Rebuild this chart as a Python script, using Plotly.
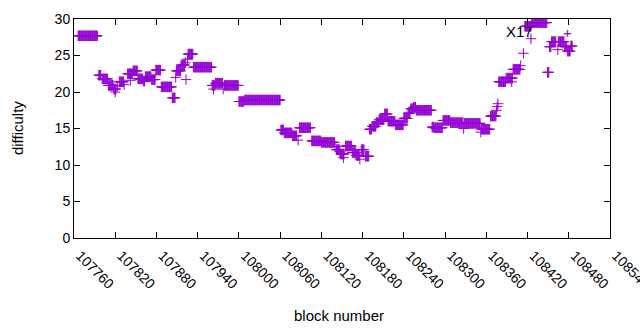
import plotly.graph_objects as go

# Difficulty runs: (first block, last block, difficulty)
run_start = [107766, 107796, 107801, 107810, 107818, 107820, 107823, 107826, 107833, 107838,
             107842, 107846, 107853, 107861, 107864, 107873, 107879, 107887, 107903, 107908,
             107909, 107916, 107922, 107923, 107925, 107926, 107934, 107961, 107963, 107966,
             107977, 107979, 108000, 108008,
             108061, 108066, 108078, 108086, 108088, 108106, 108120, 108140, 108142, 108147,
             108148, 108152, 108155, 108165, 108171, 108176, 108178, 108184, 108190, 108194,
             108200, 108204, 108212, 108217, 108228, 108240, 108246, 108250, 108254, 108258,
             108281, 108284, 108297, 108308, 108327, 108328, 108352, 108353, 108366, 108375,
             108376, 108377, 108378, 108389, 108397, 108399, 108410, 108414, 108416, 108425,
             108426, 108449, 108452, 108455, 108464, 108465, 108474, 108478, 108483]
run_end = [107794, 107799, 107809, 107817, 107821, 107820, 107823, 107832, 107833, 107845,
           107842, 107852, 107860, 107863, 107872, 107878, 107886, 107902, 107907, 107908,
           107915, 107921, 107922, 107923, 107925, 107933, 107960, 107965, 107963, 107976,
           107977, 107999, 108007, 108060,
           108065, 108077, 108084, 108086, 108104, 108119, 108139, 108140, 108146, 108147,
           108153, 108152, 108164, 108170, 108175, 108176, 108182, 108189, 108193, 108199,
           108203, 108211, 108216, 108227, 108239, 108245, 108249, 108253, 108257, 108280,
           108283, 108296, 108307, 108326, 108327, 108351, 108352, 108365, 108374, 108375,
           108376, 108377, 108388, 108398, 108397, 108409, 108410, 108414, 108425, 108425,
           108448, 108451, 108454, 108461, 108464, 108473, 108477, 108482, 108485]
run_value = [27.7, 22.3, 21.8, 20.9, 20.4, 20.0, 20.8, 21.4, 21.0, 22.5,
             21.6, 22.9, 21.8, 21.5, 22.1, 21.7, 23.0, 20.7, 19.2, 22.0,
             22.9, 23.7, 24.0, 21.7, 24.5, 25.2, 23.4, 20.9, 20.4, 21.2,
             20.4, 20.9, 18.7, 18.9,
             14.8, 14.4, 14.0, 13.4, 15.1, 13.3, 13.1, 12.5, 12.1, 11.8,
             11.5, 11.0, 12.6, 11.7, 11.3, 10.8, 12.1, 11.2, 14.9, 15.3,
             15.8, 16.2, 17.0, 16.0, 15.5, 16.4, 17.1, 17.7, 17.9, 17.5,
             15.2, 15.1, 16.1, 15.8, 15.0, 15.7, 14.5, 14.9, 16.7, 17.5,
             18.0, 18.4, 21.4, 21.9, 21.4, 23.1, 23.6, 25.3, 29.0, 27.3,
             29.5, 22.7, 26.2, 26.9, 25.8, 26.9, 26.2, 25.6, 26.3]

x_ticks = [107760, 107820, 107880, 107940, 108000, 108060, 108120, 108180,
           108240, 108300, 108360, 108420, 108480, 108540]
y_ticks = [0, 5, 10, 15, 20, 25, 30]
series_name = "X17"

blocks, diffs = [], []
for s, e, v in zip(run_start, run_end, run_value):
    for b in range(s, e + 1):
        blocks.append(b)
        diffs.append(v)

PURPLE = "#9400D3"
FONT = "Liberation Sans"

fig = go.Figure()
fig.add_trace(go.Scatter(
    x=blocks, y=diffs, mode="markers", name=series_name, showlegend=False,
    marker=dict(symbol="cross-thin", size=7.5, line=dict(width=1, color=PURPLE), color=PURPLE),
))

axis_common = dict(showline=True, linecolor="black", linewidth=1, mirror="allticks",
                   ticks="inside", ticklen=6, tickcolor="black", showgrid=False,
                   zeroline=False, automargin=False,
                   tickfont=dict(family=FONT, size=14, color="black"))

fig.update_xaxes(range=[x_ticks[0], x_ticks[-1]], tickvals=x_ticks,
                 ticktext=[str(t) for t in x_ticks], tickangle=45,
                 ticklabeloverflow="allow", ticklabelshift=6, ticklabelstandoff=3,
                 **axis_common)
fig.update_yaxes(range=[y_ticks[0], y_ticks[-1]], tickvals=y_ticks, **axis_common)

fig.add_annotation(xref="paper", yref="paper", x=0.4944, y=-0.356, xanchor="center",
                   yanchor="middle", text="block number", showarrow=False,
                   font=dict(family=FONT, size=15, color="black"))
fig.add_annotation(xref="paper", yref="paper", x=-0.1063, y=0.502, xanchor="center",
                   yanchor="middle", text="difficulty", showarrow=False, textangle=-90,
                   font=dict(family=FONT, size=15, color="black"))
fig.add_annotation(xref="paper", yref="paper", x=0.861, y=0.945, xanchor="right",
                   yanchor="middle", text=series_name, showarrow=False,
                   font=dict(family=FONT, size=15, color="black"))
fig.add_annotation(xref="paper", yref="paper", x=0.9198, y=0.94, xanchor="center",
                   yanchor="middle", text="+", showarrow=False,
                   font=dict(family=FONT, size=15, color=PURPLE))

fig.update_layout(width=640, height=330, margin=dict(l=74, r=30, t=19, b=92),
                  plot_bgcolor="white", paper_bgcolor="white",
                  font=dict(family=FONT, size=14, color="black"))

# remove the page's default body margin so the 640x330 figure fills the window exactly
fig.write_html("out.html", config={"displayModeBar": False},
               post_script="document.body.style.margin='0';document.body.style.overflow='hidden';")
